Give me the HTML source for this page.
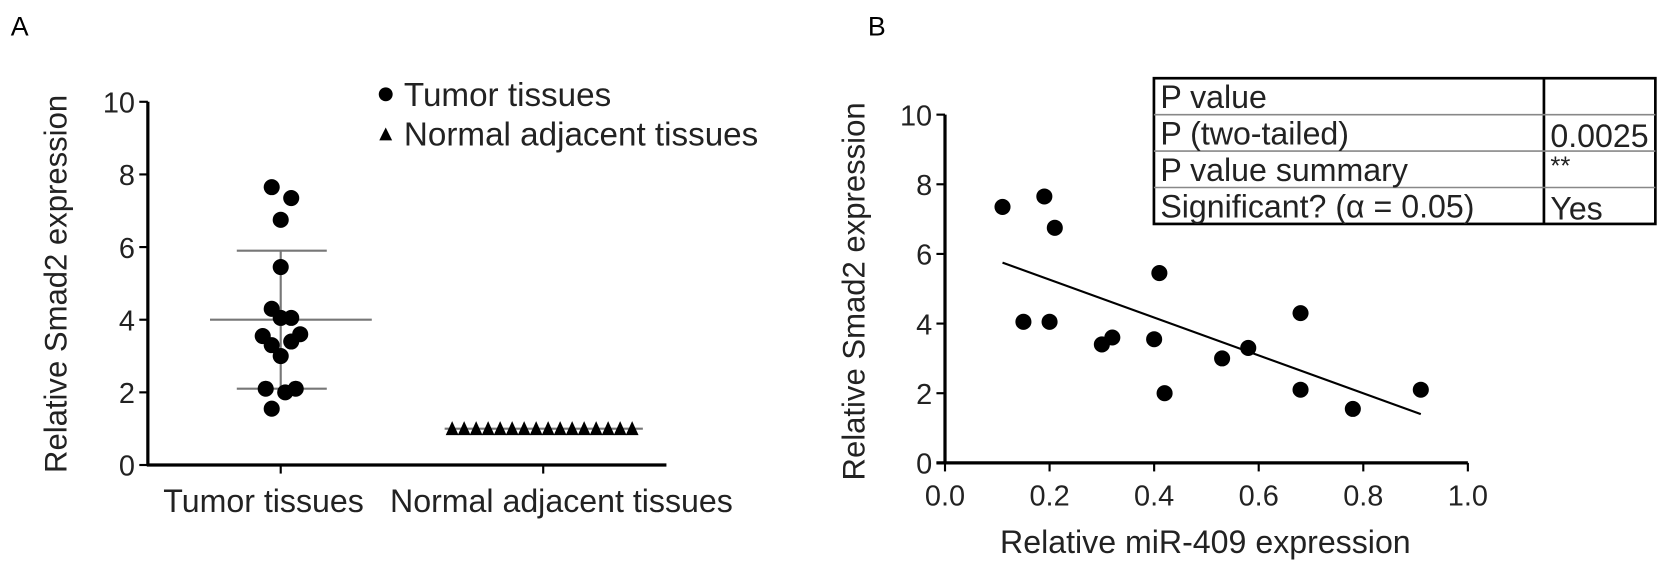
<!DOCTYPE html>
<html><head><meta charset="utf-8"><style>
body{margin:0;background:#fff;}
svg{display:block;font-family:"Liberation Sans",Arial,sans-serif;}
</style></head><body>
<svg width="1680" height="572" viewBox="0 0 1680 572">
<g transform="scale(1.07143)">
<g id="A"></g>
<g id="B"></g>
</g>
</svg>
<script>
const tumorVals=[7.65,7.35,6.75,5.45,4.3,4.05,4.05,3.55,3.6,3.3,3.4,3.0,2.1,2.1,2.0,1.55];
const tumorOffsets=[-0.3,0.35,0,0,-0.3,0,0.35,-0.6,0.65,-0.3,0.35,0,-0.5,0.5,0.15,-0.3];
const normalVals=[1,1,1,1,1,1,1,1,1,1,1,1,1,1,1,1];
const tumorMean=4.0, tumorSDhi=5.9, tumorSDlo=2.1, normalMean=1.0;
const yTicks=[0,2,4,6,8,10];
const xTicksB=[0,0.2,0.4,0.6,0.8,1.0];
const xTickLabelsB=["0.0","0.2","0.4","0.6","0.8","1.0"];
const mirVals=[0.11,0.19,0.21,0.15,0.20,0.30,0.32,0.41,0.40,0.42,0.53,0.58,0.68,0.68,0.78,0.91];
const smadVals=[7.35,7.65,6.75,4.05,4.05,3.4,3.6,5.45,3.55,2.0,3.0,3.3,4.3,2.1,1.55,2.1];
const fitX=[0.11,0.91];
const fitY=[5.75,1.4];
const tableRows=["P value","P (two-tailed)","P value summary","Significant? (\u03B1 = 0.05)"];
const tableVals=["","0.0025","**","Yes"];

const NS="http://www.w3.org/2000/svg";
function mk(parent,tag,attrs,text){const e=document.createElementNS(NS,tag);for(const k in attrs)e.setAttribute(k,attrs[k]);if(text!==undefined)e.textContent=text;parent.appendChild(e);return e;}

// Panel A
const A=document.getElementById('A');
const yA=v=>434-v*33.9;
const catX=[262,507];
const jitter=28;
let t=mk(A,'text',{x:10,y:33,'font-size':25});t.textContent='A';


let l=mk(A,'line',{x1:138,y1:yA(10),x2:138,y2:yA(0),stroke:'#000','stroke-width':3});


l=mk(A,'line',{x1:137,y1:yA(0),x2:622,y2:yA(0),stroke:'#000','stroke-width':3});


yTicks.forEach(v=>{
  mk(A,'line',{x1:130,y1:yA(v),x2:138,y2:yA(v),stroke:'#000','stroke-width':2});
  const tt=mk(A,'text',{x:126,y:yA(v)+10,'font-size':27,'text-anchor':'end',fill:'#222'},String(v));
  
  
});
catX.forEach(x=>mk(A,'line',{x1:x,y1:yA(0),x2:x,y2:yA(0)+8,stroke:'#000','stroke-width':2}));
t=mk(A,'text',{x:246,y:478,'font-size':30,'text-anchor':'middle',fill:'#222'},'Tumor tissues');


t=mk(A,'text',{x:524,y:478,'font-size':30,'text-anchor':'middle',fill:'#222'},'Normal adjacent tissues');


t=mk(A,'text',{x:0,y:0,'font-size':29,'text-anchor':'middle',fill:'#222',transform:'translate(62,265) rotate(-90)'},'Relative Smad2 expression');


mk(A,'line',{x1:196,y1:yA(tumorMean),x2:347,y2:yA(tumorMean),stroke:'#777','stroke-width':2});
mk(A,'line',{x1:221,y1:yA(tumorSDhi),x2:305,y2:yA(tumorSDhi),stroke:'#777','stroke-width':2});
mk(A,'line',{x1:221,y1:yA(tumorSDlo),x2:305,y2:yA(tumorSDlo),stroke:'#777','stroke-width':2});
mk(A,'line',{x1:262,y1:yA(tumorSDhi),x2:262,y2:yA(tumorSDlo),stroke:'#777','stroke-width':2});
mk(A,'line',{x1:415,y1:yA(normalMean),x2:600,y2:yA(normalMean),stroke:'#777','stroke-width':2});
tumorVals.forEach((v,i)=>{
  const c=mk(A,'circle',{cx:catX[0]+tumorOffsets[i]*jitter,cy:yA(v),r:7.5,fill:'#000'});
  
  
});
normalVals.forEach((v,i)=>{
  const x=422+i*11.2,y=yA(v);
  const p=mk(A,'polygon',{points:`${x-6},${y+6} ${x+6},${y+6} ${x},${y-7}`,fill:'#000'});
  
  
});
let c=mk(A,'circle',{cx:360,cy:88,r:6.5,fill:'#000'});


t=mk(A,'text',{x:377,y:99,'font-size':31,fill:'#222'},'Tumor tissues');


let p=mk(A,'polygon',{points:'354,131 366,131 360,119',fill:'#000'});


t=mk(A,'text',{x:377,y:136,'font-size':31,fill:'#222'},'Normal adjacent tissues');



// Panel B
const B=document.getElementById('B');
const yB=v=>432-v*32.5;
const xB=v=>882+v*488;
t=mk(B,'text',{x:810,y:33,'font-size':25},'B');


l=mk(B,'line',{x1:xB(0),y1:yB(10),x2:xB(0),y2:yB(0),stroke:'#000','stroke-width':3});


l=mk(B,'line',{x1:xB(0)-8,y1:yB(0),x2:xB(1),y2:yB(0),stroke:'#000','stroke-width':3});


yTicks.forEach(v=>{
  mk(B,'line',{x1:xB(0)-8,y1:yB(v),x2:xB(0),y2:yB(v),stroke:'#000','stroke-width':2});
  const tt=mk(B,'text',{x:xB(0)-12,y:yB(v)+10,'font-size':27,'text-anchor':'end',fill:'#222'},String(v));
  
  
});
xTicksB.forEach((v,i)=>{
  mk(B,'line',{x1:xB(v),y1:yB(0),x2:xB(v),y2:yB(0)+8,stroke:'#000','stroke-width':2});
  const tt=mk(B,'text',{x:xB(v),y:472,'font-size':27,'text-anchor':'middle',fill:'#222'},xTickLabelsB[i]);
  
  
});
t=mk(B,'text',{x:1125,y:516,'font-size':30,'text-anchor':'middle',fill:'#222'},'Relative miR-409 expression');


t=mk(B,'text',{x:0,y:0,'font-size':29,'text-anchor':'middle',fill:'#222',transform:'translate(807,272) rotate(-90)'},'Relative Smad2 expression');


mirVals.forEach((v,i)=>{
  const cc=mk(B,'circle',{cx:xB(v),cy:yB(smadVals[i]),r:7.5,fill:'#000'});
  
  
});
l=mk(B,'line',{x1:xB(fitX[0]),y1:yB(fitY[0]),x2:xB(fitX[1]),y2:yB(fitY[1]),stroke:'#000','stroke-width':2});


const tb=mk(B,'g',{});


const tx0=1077,tx1=1545,ty0=73,rh=34,tdiv=1441;
mk(tb,'rect',{x:tx0,y:ty0,width:tx1-tx0,height:rh*4,fill:'#fff',stroke:'#000','stroke-width':2.5});
mk(tb,'line',{x1:tdiv,y1:ty0,x2:tdiv,y2:ty0+rh*4,stroke:'#000','stroke-width':2.5});
for(let i=1;i<4;i++)mk(tb,'line',{x1:tx0,y1:ty0+rh*i,x2:tx1,y2:ty0+rh*i,stroke:'#888','stroke-width':1.5});
const valBase=[0,rh*2-4,rh*2+22,rh*4-4];
tableRows.forEach((r,i)=>{
  const tt=mk(tb,'text',{x:tx0+6,y:ty0+rh*(i+1)-6,'font-size':30,fill:'#222'},r);
  
  
  const tv=mk(tb,'text',{x:tdiv+6,y:ty0+valBase[i],'font-size':i===2?24:30,fill:'#222'},tableVals[i]);
  
  
});
</script>
</body></html>
